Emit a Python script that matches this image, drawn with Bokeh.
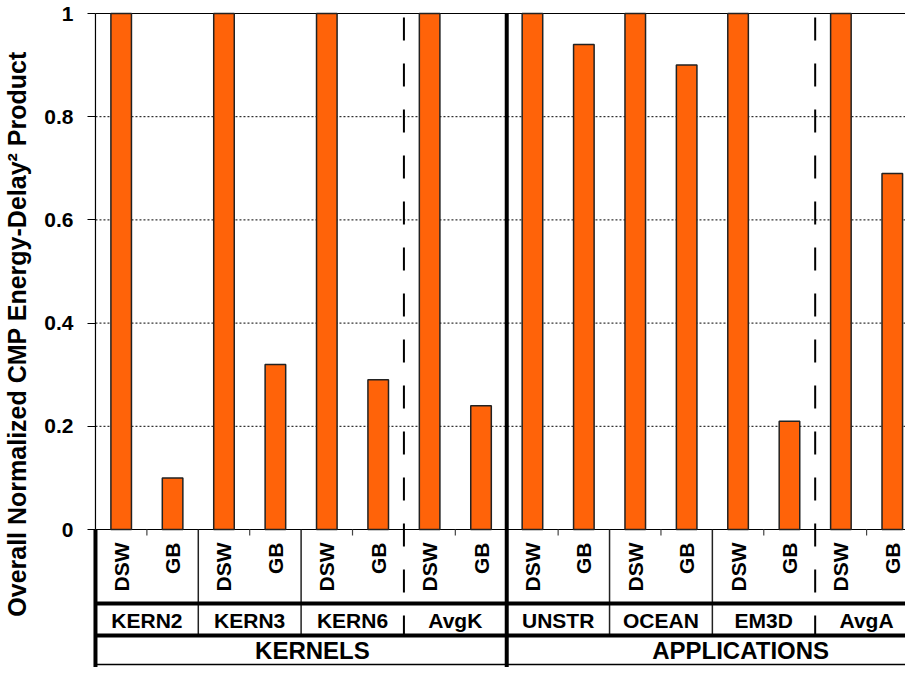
import math
from bokeh.plotting import figure
from bokeh.models import Range1d, FixedTicker
from bokeh.core.properties import value
from bokeh.embed import file_html
from bokeh.resources import INLINE

# ---- data ----
groups = ["KERN2", "KERN3", "KERN6", "AvgK", "UNSTR", "OCEAN", "EM3D", "AvgA"]
series = ["DSW", "GB"]
dsw_values = [1.0, 1.0, 1.0, 1.0, 1.0, 1.0, 1.0, 1.0]
gb_values = [0.10, 0.32, 0.29, 0.24, 0.94, 0.90, 0.21, 0.69]
sections = ["KERNELS", "APPLICATIONS"]
section_sizes = [4, 4]
y_ticks = [0, 0.2, 0.4, 0.6, 0.8, 1.0]
y_tick_labels = ["0", "0.2", "0.4", "0.6", "0.8", "1"]
y_title = "Overall Normalized CMP Energy-Delay\u00b2 Product"

# ---- layout / style ----
FONT = "Liberation Sans"
BAR_COLOR = "#FF6309"
W, H = 905, 667
PX_UNIT_X = 51.85          # pixels per bar slot
PX_UNIT_Y = 516.0          # pixels per 1.0 of value
LEFT = 85                  # figure px where frame begins
X_PAD = 3.0                # px between frame left and x=0
TOP_PAD = 13.0             # px between frame top and y=1
frame_w = W - LEFT
x_start = -X_PAD / PX_UNIT_X
x_end = x_start + frame_w / PX_UNIT_X
y_end = 1 + TOP_PAD / PX_UNIT_Y
y_start = y_end - H / PX_UNIT_Y

def px(v):
    return v / PX_UNIT_Y

Y_TICKMARK = -px(6)
Y_SERIES_TXT = -px(13)
Y_LINE1 = -px(74)
Y_GROUP_TXT = -px(91)
Y_LINE2 = -px(106)
Y_SECTION_TXT = -px(121)
Y_BOTTOM = -px(135)

p = figure(width=W, height=H, output_backend="svg", toolbar_location=None,
           x_range=Range1d(x_start, x_end), y_range=Range1d(y_start, y_end),
           x_axis_location=None, min_border_left=LEFT, min_border_right=0,
           min_border_top=0, min_border_bottom=0)
p.outline_line_color = None
p.xgrid.visible = False
p.ygrid.visible = False
p.background_fill_color = "white"

# y axis
ax = p.yaxis[0]
ax.ticker = FixedTicker(ticks=y_ticks)
ax.major_label_overrides = {t: l for t, l in zip(y_ticks, y_tick_labels)}
ax.minor_tick_line_color = None
ax.axis_line_color = None
ax.major_tick_out = 5
ax.major_tick_in = 3
ax.major_tick_line_color = "black"
ax.major_label_standoff = 14
ax.major_label_text_font = FONT
ax.major_label_text_font_style = "bold"
ax.major_label_text_font_size = "21px"
ax.major_label_text_color = "black"
ax.axis_label = y_title
ax.axis_label_text_font = FONT
ax.axis_label_text_font_style = "bold"
ax.axis_label_text_font_size = "25px"
ax.axis_label_text_color = "black"
ax.axis_label_standoff = 10

ng = len(groups)

# dotted grid lines
grid_y = [t for t in y_ticks if 0 < t < 1]
p.segment(x0=[0] * len(grid_y), x1=[x_end] * len(grid_y), y0=grid_y, y1=grid_y,
          line_color="black", line_width=1, line_dash="2 2")
# top and zero lines
p.segment(x0=[0, 0], x1=[x_end, x_end], y0=[1, 0], y1=[1, 0],
          line_color="black", line_width=1.2)

# bars
xs_dsw = [2 * g + 0.5 for g in range(ng)]
xs_gb = [2 * g + 1.5 for g in range(ng)]
p.vbar(x=xs_dsw, top=dsw_values, bottom=0, width=0.4, fill_color=BAR_COLOR,
       line_color="#222222", line_width=1.5)
p.vbar(x=xs_gb, top=gb_values, bottom=0, width=0.4, fill_color=BAR_COLOR,
       line_color="#222222", line_width=1.5)

# left axis line: thin in plot, thick in table
p.segment(x0=[0], x1=[0], y0=[0], y1=[1], line_color="black", line_width=1.2)
p.segment(x0=[0], x1=[0], y0=[y_start], y1=[0], line_color="black", line_width=4)

# small ticks between DSW and GB
tx = [2 * g + 1 for g in range(ng)]
p.segment(x0=tx, x1=tx, y0=[0] * ng, y1=[Y_TICKMARK] * ng, line_color="#444444", line_width=1.2)

# group boundaries
sec_bounds = []
acc = 0
for s in section_sizes[:-1]:
    acc += s
    sec_bounds.append(acc)
thin_x, dash_x = [], []
for g in range(1, ng):
    if g in sec_bounds:
        continue
    if groups[g].startswith("Avg"):
        dash_x.append(2 * g)
    else:
        thin_x.append(2 * g)
p.segment(x0=thin_x, x1=thin_x, y0=[0] * len(thin_x), y1=[Y_LINE2] * len(thin_x),
          line_color="#222222", line_width=1.5)
p.segment(x0=dash_x, x1=dash_x, y0=[1] * len(dash_x), y1=[Y_LINE2] * len(dash_x),
          line_color="black", line_width=2, line_dash="23 23", line_dash_offset=42)
sx = [2 * b for b in sec_bounds]
p.segment(x0=sx, x1=sx, y0=[1] * len(sx), y1=[y_start] * len(sx),
          line_color="black", line_width=4)

# table horizontal lines
p.segment(x0=[0, 0], x1=[x_end, x_end], y0=[Y_LINE1, Y_LINE2], y1=[Y_LINE1, Y_LINE2],
          line_color="black", line_width=4)
p.segment(x0=[0], x1=[x_end], y0=[Y_BOTTOM], y1=[Y_BOTTOM], line_color="black", line_width=1.5)

# series labels (rotated)
lab_x = xs_dsw + xs_gb
lab_t = [series[0]] * ng + [series[1]] * ng
p.text(x=lab_x, y=[Y_SERIES_TXT] * len(lab_x), text=lab_t, angle=math.pi / 2,
       text_align="right", text_baseline="middle", text_font=value(FONT),
       text_font_style="bold", text_font_size="21px", text_color="black")

# group labels
p.text(x=tx, y=[Y_GROUP_TXT] * ng, text=groups, text_align="center",
       text_baseline="middle", text_font=value(FONT), text_font_style="bold",
       text_font_size="21px", text_color="black")

# section labels
sec_x = []
start = 0
for s, off in zip(section_sizes, [0.22, 0.55]):
    sec_x.append(start * 2 + s + off)
    start += s
p.text(x=sec_x, y=[Y_SECTION_TXT] * len(sec_x), text=sections, text_align="center",
       text_baseline="middle", text_font=value(FONT), text_font_style="bold",
       text_font_size="24px", text_color="black")

open("out.html", "w").write(file_html(p, INLINE))
